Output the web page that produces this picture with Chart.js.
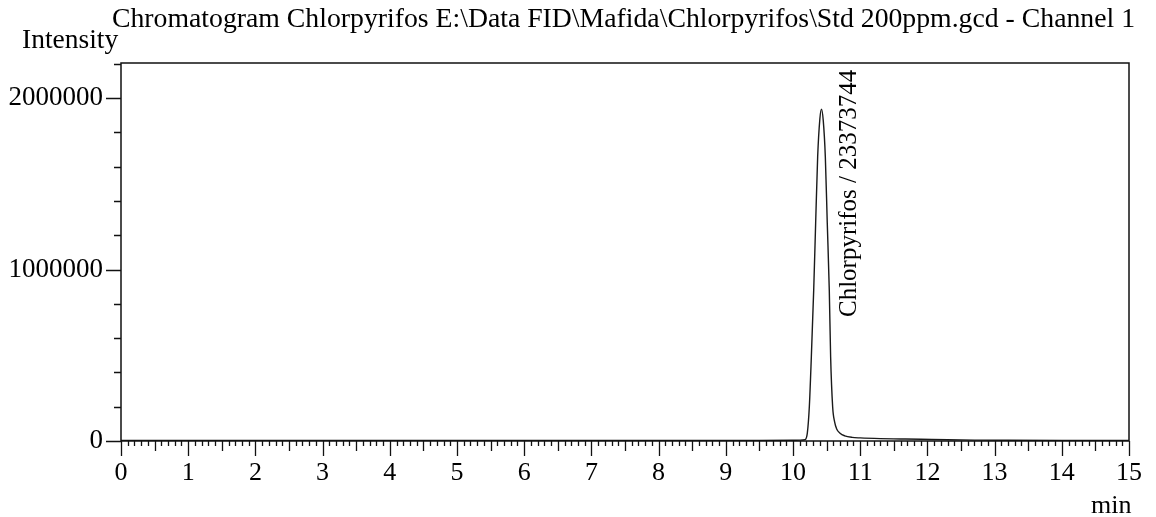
<!DOCTYPE html>
<html>
<head>
<meta charset="utf-8">
<script src="https://cdn.jsdelivr.net/npm/chart.js@4"></script>
<style>
  html, body { margin: 0; padding: 0; background: #fff; }
  canvas { display: block; }
</style>
</head>
<body>
<canvas id="chart" width="1156" height="517"></canvas>
<script>
// retention time (min) and detector signal
const times = [0, 2, 4, 6, 8, 9.5, 10.0, 10.10, 10.18, 10.213, 10.243, 10.273, 10.308, 10.337, 10.367, 10.40, 10.424,
               10.45, 10.481, 10.51, 10.54, 10.56, 10.59, 10.62, 10.65, 10.70, 10.77, 10.88, 11.0, 11.3, 11.6, 11.9,
               12.3, 12.7, 13.2, 14.0, 15.0];
const intensity = [3000, 3000, 3000, 3000, 3000, 3500, 4000, 5000, 8000, 46000, 200000, 491000, 880000, 1270000, 1658000, 1880000, 1936000,
                   1870000, 1658000, 1270000, 880000, 491000, 200000, 110000, 70000, 45000, 30000, 21000, 18000, 14000, 12000, 10000,
                   7000, 5000, 4000, 3000, 2500];

const peakNames = ['Chlorpyrifos'];
const peakTimes = [10.424];
const peakAreas = [23373744];

const xTicks = [0, 1, 2, 3, 4, 5, 6, 7, 8, 9, 10, 11, 12, 13, 14, 15];
const yTicks = [0, 1000000, 2000000];

const titleText = 'Chromatogram Chlorpyrifos E:\\Data FID\\Mafida\\Chlorpyrifos\\Std 200ppm.gcd - Channel 1';
const serif = "'Liberation Serif', 'Times New Roman', serif";

Chart.defaults.font.family = serif;
Chart.defaults.color = '#000';

const frame = {
  id: 'frame',
  afterDraw(chart) {
    const { ctx, chartArea: a, scales: { x, y } } = chart;
    ctx.save();
    ctx.strokeStyle = '#111';
    ctx.lineWidth = 1.5;
    ctx.strokeRect(a.left, a.top, a.right - a.left, a.bottom - a.top);

    // x tick marks: 0.1 min minor, 0.5 medium, 1 major
    ctx.lineWidth = 1.3;
    ctx.beginPath();
    for (let i = 0; i <= 150; i++) {
      const px = Math.round(x.getPixelForValue(i / 10)) + 0.5;
      const len = i % 10 === 0 ? 15 : i % 5 === 0 ? 10 : 5;
      ctx.moveTo(px, a.bottom);
      ctx.lineTo(px, a.bottom + len);
    }
    // y tick marks every 200000
    for (let v = 0; v <= y.max; v += 200000) {
      const py = Math.round(y.getPixelForValue(v)) + 0.5;
      const len = v % 1000000 === 0 ? 15 : 7;
      ctx.moveTo(a.left, py);
      ctx.lineTo(a.left - len, py);
    }
    ctx.stroke();

    ctx.fillStyle = '#000';
    ctx.textBaseline = 'alphabetic';
    ctx.textAlign = 'left';

    // title, stretched to the width it takes in the original
    ctx.font = '27.5px ' + serif;
    const w = ctx.measureText(titleText).width;
    ctx.save();
    ctx.translate(112, 27);
    ctx.scale(1023 / w, 1);
    ctx.fillText(titleText, 0, 0);
    ctx.restore();

    ctx.fillText('Intensity', 22, 48);
    ctx.font = '26px ' + serif;
    ctx.fillText('min', 1091, 513);

    ctx.font = '25px ' + serif;
    peakNames.forEach((name, i) => {
      const px = x.getPixelForValue(peakTimes[i]);
      ctx.save();
      ctx.translate(px + 35, 317);
      ctx.rotate(-Math.PI / 2);
      ctx.fillText(name + ' / ' + peakAreas[i], 0, 0);
      ctx.restore();
    });
    ctx.restore();
  }
};

new Chart(document.getElementById('chart'), {
  type: 'line',
  data: {
    datasets: [{
      data: times.map((t, i) => ({ x: t, y: intensity[i] })),
      borderColor: '#1a1a1a',
      borderWidth: 1.4,
      pointRadius: 0,
      fill: false,
      cubicInterpolationMode: 'monotone',
    }],
  },
  options: {
    responsive: false,
    animation: false,
    layout: { padding: { top: 63, right: 27, left: 0, bottom: 0 } },
    plugins: { legend: { display: false }, tooltip: { enabled: false }, title: { display: false } },
    scales: {
      x: {
        type: 'linear',
        min: xTicks[0],
        max: xTicks[xTicks.length - 1],
        grid: { display: false, drawTicks: false },
        border: { display: false },
        afterBuildTicks: s => { s.ticks = xTicks.map(v => ({ value: v })); },
        ticks: { padding: 17, maxRotation: 0, autoSkip: false, font: { size: 26 }, callback: v => String(v) },
        afterFit: s => { s.height = 76; s.paddingLeft = 0; s.paddingRight = 0; },
      },
      y: {
        min: 0,
        max: 2205000,
        grid: { display: false, drawTicks: false },
        border: { display: false },
        afterBuildTicks: s => { s.ticks = yTicks.map(v => ({ value: v })); },
        ticks: { padding: 18, font: { size: 27 }, callback: v => String(v) },
        afterFit: s => { s.width = 121; s.paddingTop = 0; s.paddingBottom = 0; },
      },
    },
  },
  plugins: [frame],
});
</script>
</body>
</html>
